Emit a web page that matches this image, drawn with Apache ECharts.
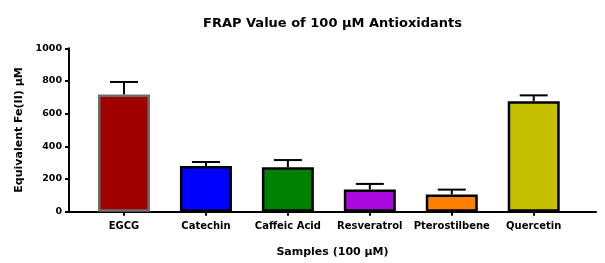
<!DOCTYPE html>
<html><head><meta charset="utf-8">
<script src="https://cdn.jsdelivr.net/npm/echarts@6/dist/echarts.min.js"></script>
<style>html,body{margin:0;padding:0;background:#fff}#c{width:605px;height:263px}</style>
</head><body><div id="c"></div>
<script>
const categories = ['EGCG','Catechin','Caffeic Acid','Resveratrol','Pterostilbene','Quercetin'];
const means = [717, 280, 272, 136, 105, 676];
const upper = [794, 304, 316, 170, 135, 712];
const yTicks = [0, 200, 400, 600, 800, 1000];

const fills = ['#a00000','#0000ff','#008000','#a90ae0','#ff8000','#c4c000'];
const borders = ['#6e6e6e','#000','#000','#000','#000','#000'];
const FONT = 'DejaVu Sans';

const chart = echarts.init(document.getElementById('c'), null, {renderer:'canvas'});
const idx = categories.map((c,i)=>i);
chart.setOption({
  animation:false,
  title:{text:'FRAP Value of 100 µM Antioxidants', left:198, top:12,
    textStyle:{fontFamily:FONT, fontWeight:'bold', fontSize:13, color:'#000'}},
  grid:{left:69, right:9, top:48.3, bottom:51.3},
  xAxis:{type:'value', min:-0.671, max:5.76,
    axisLine:{show:true, onZero:false, lineStyle:{color:'#000', width:2}},
    axisTick:{show:true, customValues:idx, length:4, lineStyle:{color:'#000', width:2}},
    axisLabel:{show:true, customValues:idx, formatter:v=>categories[Math.round(v)], margin:10,
      fontFamily:FONT, fontWeight:'bold', fontSize:10, color:'#000'},
    splitLine:{show:false},
    name:'Samples (100 µM)', nameLocation:'middle', nameGap:35,
    nameTextStyle:{fontFamily:FONT, fontWeight:'bold', fontSize:11, color:'#000'}
  },
  yAxis:{type:'value', min:0, max:1000, interval:200,
    axisLine:{show:true, onZero:false, lineStyle:{color:'#000', width:2}},
    axisTick:{show:true, length:4, lineStyle:{color:'#000', width:2}},
    axisLabel:{margin:7, fontFamily:FONT, fontWeight:'bold', fontSize:9.5, color:'#000',
      formatter:v=>yTicks.includes(v)?String(v):''},
    splitLine:{show:false},
    name:'Equivalent Fe(II) µM', nameLocation:'middle', nameGap:29,
    nameTextStyle:{fontFamily:FONT, fontWeight:'bold', fontSize:11, color:'#000'}
  },
  series:[
    {type:'bar', barWidth:52,
     data:means.map((m,i)=>({value:[i,m], itemStyle:{color:fills[i], borderColor:borders[i], borderWidth:2.5}}))},
    {type:'custom', z:1,
     data:means.map((m,i)=>[i,m,upper[i]]),
     renderItem:function(params, api){
       const p0 = api.coord([api.value(0), api.value(1)]);
       const p1 = api.coord([api.value(0), api.value(2)]);
       const half = 14;
       return {type:'group', children:[
         {type:'line', shape:{x1:p0[0], y1:p0[1], x2:p1[0], y2:p1[1]}, style:{stroke:'#000', lineWidth:2}},
         {type:'line', shape:{x1:p1[0]-half, y1:p1[1], x2:p1[0]+half, y2:p1[1]}, style:{stroke:'#000', lineWidth:2}}
       ]};
     }}
  ]
});
</script></body></html>
